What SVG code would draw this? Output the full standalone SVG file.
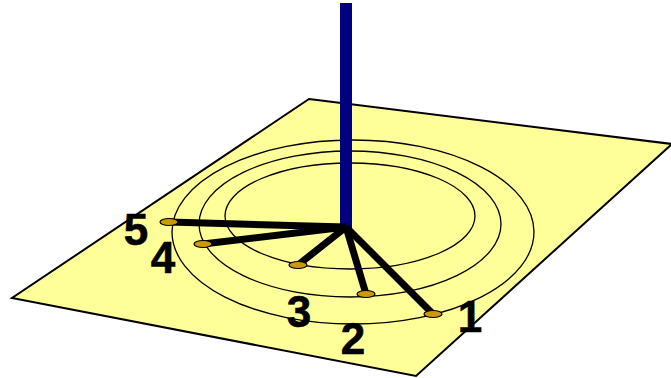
<svg xmlns="http://www.w3.org/2000/svg" width="671" height="378" viewBox="0 0 671 378">
<style>
.ring{fill:none;stroke:#000;stroke-width:1.3}
.arm{stroke:#000;stroke-width:7;stroke-linecap:butt;fill:none}
.dot{fill:#cc9900;stroke:#000;stroke-width:1.2}
.num{font-family:"Liberation Sans",Arial,sans-serif;font-weight:700;font-size:44px;fill:#000;stroke:#000;stroke-width:.6;text-anchor:middle}
</style>
<g id="plane"><polygon points="309,99 672,144 416,376 12,298" fill="#ffff99" stroke="#000" stroke-width="2"/></g>
<g id="rings">
<ellipse class="ring" cx="353" cy="232" rx="181" ry="92"/>
<ellipse class="ring" cx="350" cy="224" rx="151" ry="73"/>
<ellipse class="ring" cx="350" cy="216" rx="125" ry="53"/>
</g>
<g id="pole"><rect x="340" y="3" width="12" height="225" fill="#000080"/></g>
<g id="connectors">
<line class="arm" x1="346" y1="227" x2="433" y2="314"/>
<line class="arm" x1="346" y1="227" x2="366" y2="294"/>
<line class="arm" x1="346" y1="227" x2="298" y2="265"/>
<line class="arm" x1="346" y1="227" x2="203" y2="244"/>
<line class="arm" x1="346" y1="227" x2="169" y2="222"/>
</g>
<g id="node-1"><ellipse class="dot" cx="433" cy="314" rx="9" ry="3.5"/><text class="num" x="470" y="332">1</text></g>
<g id="node-2"><ellipse class="dot" cx="366" cy="294" rx="9" ry="3.5"/><text class="num" x="353" y="354">2</text></g>
<g id="node-3"><ellipse class="dot" cx="298" cy="265" rx="9" ry="3.5"/><text class="num" x="299" y="327">3</text></g>
<g id="node-4"><ellipse class="dot" cx="203" cy="244" rx="9" ry="3.5"/><text class="num" x="163" y="273">4</text></g>
<g id="node-5"><ellipse class="dot" cx="169" cy="222" rx="9" ry="3.5"/><text class="num" x="136" y="245">5</text></g>
</svg>
